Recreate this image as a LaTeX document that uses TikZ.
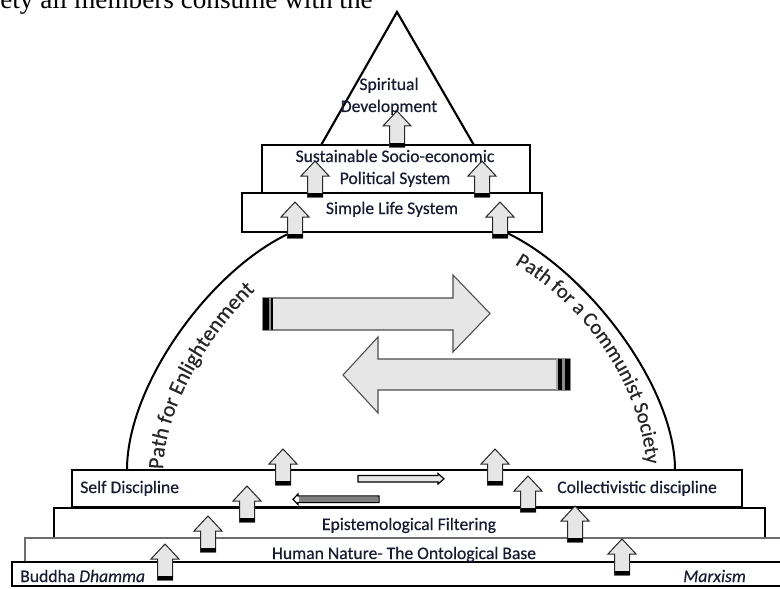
\documentclass[tikz,border=0pt]{standalone}
\usepackage{fontspec}
\setmainfont{Carlito}
\newfontfamily\heavy{Carlito}[FakeBold=0.35]
\newfontfamily\serifface{Liberation Serif}
\usetikzlibrary{decorations.text}
\definecolor{txt}{RGB}{22,28,52}
\definecolor{arrfill}{RGB}{230,230,230}
\definecolor{thinline}{RGB}{110,110,110}
\tikzset{
  thickbox/.style={draw=black,line width=1.6pt,fill=white,line join=miter},
  thinbox/.style={draw=thinline,line width=1pt,fill=white},
  lbl/.style={font=\heavy\fontsize{13.2}{16.5}\selectfont,text=txt,inner sep=0pt},
  archline/.style={draw=black,line width=1.5pt},
  bigarrow/.style={fill=arrfill,draw=black!70,line width=0.8pt},
  uparr/.pic={
    \path[fill=arrfill,draw=black!85,line width=0.75pt] (-7.5,0) -- (-7.5,-21) -- (-14,-21) -- (0,-36) -- (14,-21) -- (7.5,-21) -- (7.5,0) -- cycle;
    \fill[black] (-7.5,0) rectangle (7.5,-4.5);
  }
}
\begin{document}
\begin{tikzpicture}[x=0.75pt,y=-0.75pt]
\useasboundingbox (0,0) rectangle (780,588);
\fill[white] (0,0) rectangle (780,588);

% cut-off running text at top
\node[anchor=base west,inner sep=0pt,font=\serifface\fontsize{20.4}{20.4}\selectfont] (toptext) at (0,9) {ety all members consume with the};

% arcs
\draw[archline] (290,233) .. controls (210,270) and (127,385) .. (127,470);
\draw[archline] (505,232) .. controls (585,269) and (675,385) .. (675,470);

% triangle
\draw[thickbox] (397,12) -- (475,147) -- (320,147) -- cycle;
% sustainable and simple boxes
\draw[thickbox] (262,145) rectangle (530,193);
\draw[thickbox] (242,193) rectangle (542,232);

% base boxes
\draw[thickbox] (54,508) rectangle (765,538);
\draw[thinbox] (25,538) rectangle (800,562);
\draw[thickbox] (12,562) rectangle (800,586);
\draw[thickbox] (72,470) rectangle (742,507);

% big exchange arrows
\draw[bigarrow] (263,298) -- (453,298) -- (453,275) -- (490,313.5) -- (453,352) -- (453,330) -- (263,330) -- cycle;
\fill[black] (263,298) rectangle (268.5,330);
\fill[black!45] (268.5,298) rectangle (270.5,330);
\fill[black] (270.5,298) rectangle (273,330);
\draw[bigarrow] (570,359) -- (378,359) -- (378,337) -- (343,375) -- (378,413) -- (378,390) -- (570,390) -- cycle;
\fill[black!35] (555.5,359) rectangle (558,390);
\fill[black] (558,359) rectangle (562,390);
\fill[black!45] (562,359) rectangle (565,390);
\fill[black] (565,359) rectangle (570,390);

% small exchange arrows
\draw[fill=arrfill,draw=black,line width=0.9pt] (358,475.5) -- (438,475.5) -- (438,473.5) -- (444,478.8) -- (438,484) -- (438,482) -- (358,482) -- cycle;
\draw[fill=white,draw=black,line width=0.9pt] (379,496) -- (298,496) -- (298,494) -- (293,499.3) -- (298,504.5) -- (298,502.5) -- (379,502.5) -- cycle;
\fill[black!50] (299,497) rectangle (378,501.5);

% up arrows
\foreach \p in {(397,147),(315,197),(482,197),(295,238),(500,238),(283,485),(495,485),(247,522),(528,512),(208,552),(575,542),(165,580),(622,575)}
  \pic at \p {uparr};

% labels
\node[lbl,anchor=base,align=center] (spirit) at (389,112) {Spiritual\\Development};
\node[lbl,anchor=base,align=center] (sustain) at (395,184) {Sustainable Socio-economic\\Political System};
\node[lbl,anchor=base] (simple) at (392,214) {Simple Life System};
\node[lbl,anchor=base west] (selfd) at (80,493) {Self Discipline};
\node[lbl,anchor=base west] (coll) at (557,493) {Collectivistic discipline};
\node[lbl,anchor=base] (epist) at (409,530) {Epistemological Filtering};
\node[lbl,anchor=base] (human) at (404,559) {Human Nature- The Ontological Base};
\node[lbl,anchor=base west] (buddha) at (20,582) {Buddha \textit{Dhamma}};
\node[lbl,anchor=base west] (marx) at (683,582) {\textit{Marxism}};

% arc labels
\path[decorate,decoration={text along path,text align={left indent=2pt},
  text={|\heavy\fontsize{16.3}{16.3}\selectfont\color{black!85}|Path for Enlightenment}}]
  (163,472) .. controls (163,398) and (230,296) .. (296,260);
\path[decorate,decoration={text along path,text align={left indent=15pt},
  text={|\heavy\fontsize{15.5}{15.5}\selectfont\color{black!85}|Path for a Communist Society}}]
  (497,255) .. controls (577,292) and (647,385) .. (647,480);
\end{tikzpicture}
\end{document}
